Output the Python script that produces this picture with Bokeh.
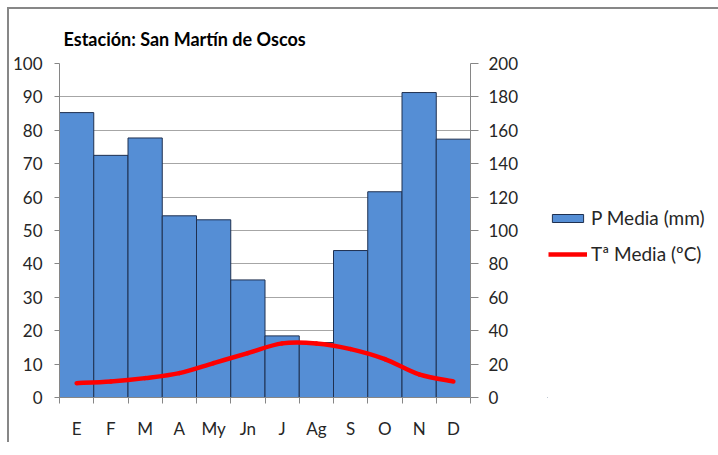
from bokeh.plotting import figure
from bokeh.layouts import row
from bokeh.models import Range1d, LinearAxis, FixedTicker, Legend, LegendItem, ColumnDataSource
from bokeh.embed import file_html
from bokeh.resources import INLINE

months = ["E", "F", "M", "A", "My", "Jn", "J", "Ag", "S", "O", "N", "D"]
precip_mm = [170.6, 145.0, 155.4, 108.8, 106.4, 70.4, 36.9, 32.9, 88.0, 123.2, 182.6, 154.7]
temp_c = [4.3, 4.8, 5.8, 7.3, 10.3, 13.3, 16.2, 16.2, 14.5, 11.5, 6.9, 4.8]
temp_ticks = list(range(0, 101, 10))
precip_ticks = list(range(0, 201, 20))
legend_labels = ["P Media (mm)", "Tª Media (ºC)"]

FONT = "Lato"
TXT = "#262626"
AX = "#868686"
BAR_FILL = "#558ED5"
BAR_LINE = "#1F3050"
LINE_COL = "#FF0000"

p = figure(frame_width=411, frame_height=334,
           x_range=Range1d(0, 12), y_range=Range1d(0, 100),
           output_backend="svg", toolbar_location=None,
           min_border_left=50, min_border_top=54, min_border_bottom=45,
           min_border_right=77)
p.extra_y_ranges = {"p": Range1d(0, 200)}
p.outline_line_color = None

p.title.text = "Estación: San Martín de Oscos"
p.title.text_font = FONT
p.title.text_font_size = "18px"
p.title.text_font_style = "bold"
p.title.text_color = "#000000"
p.title.align = "left"
p.title.offset = 4
p.title.standoff = 28

xs = [i + 0.5 for i in range(len(months))]

# bars (precipitation, right axis)
bars = p.vbar(x=xs, top=precip_mm, bottom=0, width=1.0, y_range_name="p",
              fill_color=BAR_FILL, line_color=BAR_LINE, line_width=1)

# smooth temperature line (cubic Bezier through the data points)
n = len(temp_c)
x0 = []; y0 = []; x1 = []; y1 = []; cx0 = []; cy0 = []; cx1 = []; cy1 = []
for i in range(n - 1):
    xa, ya = xs[i], temp_c[i]
    xb, yb = xs[i + 1], temp_c[i + 1]
    xp, yp = (xs[i - 1], temp_c[i - 1]) if i > 0 else (xa, ya)
    xn, yn = (xs[i + 2], temp_c[i + 2]) if i + 2 < n else (xb, yb)
    x0.append(xa); y0.append(ya); x1.append(xb); y1.append(yb)
    cx0.append(xa + (xb - xp) / 6); cy0.append(ya + (yb - yp) / 6)
    cx1.append(xb - (xn - xa) / 6); cy1.append(yb - (yn - ya) / 6)
src = ColumnDataSource(dict(x0=x0, y0=y0, x1=x1, y1=y1, cx0=cx0, cy0=cy0, cx1=cx1, cy1=cy1))
p.bezier(x0="x0", y0="y0", x1="x1", y1="y1", cx0="cx0", cy0="cy0", cx1="cx1", cy1="cy1",
         source=src, line_color=LINE_COL, line_width=4.5, line_cap="round")

# grid
p.xgrid.visible = False
p.ygrid.ticker = FixedTicker(ticks=temp_ticks)
p.ygrid.grid_line_color = "#A6A6A6"
p.ygrid.grid_line_width = 1

# x axis
xa_ = p.xaxis[0]
xa_.ticker = FixedTicker(ticks=xs, minor_ticks=list(range(13)))
xa_.major_label_overrides = {x: m for x, m in zip(xs, months)}
xa_.major_tick_out = 0
xa_.major_tick_in = 0
xa_.minor_tick_out = 6
xa_.minor_tick_in = 0
xa_.minor_tick_line_color = AX
xa_.axis_line_color = AX
xa_.major_label_standoff = 14
xa_.major_label_text_font = FONT
xa_.major_label_text_font_size = "17px"
xa_.major_label_text_color = TXT

# left axis
ya_ = p.yaxis[0]
ya_.ticker = FixedTicker(ticks=temp_ticks, minor_ticks=[])
ya_.major_tick_out = 5
ya_.major_tick_in = 0
ya_.major_tick_line_color = AX
ya_.axis_line_color = AX
ya_.major_label_standoff = 12
ya_.major_label_text_font = FONT
ya_.major_label_text_font_size = "17px"
ya_.major_label_text_color = TXT

# right axis
ra = LinearAxis(y_range_name="p", ticker=FixedTicker(ticks=precip_ticks, minor_ticks=[]))
ra.major_tick_out = 8
ra.major_tick_in = 0
ra.major_tick_line_color = AX
ra.axis_line_color = AX
ra.major_label_standoff = 10
ra.major_label_text_font = FONT
ra.major_label_text_font_size = "17px"
ra.major_label_text_color = TXT
p.add_layout(ra, "right")

# legend panel (separate figure holding only the legend keys; key glyphs sit outside its view)
lf = figure(width=171, height=433, x_range=Range1d(0, 1), y_range=Range1d(0, 1),
            output_backend="svg", toolbar_location=None,
            min_border=0, min_border_left=0, min_border_right=0,
            min_border_top=0, min_border_bottom=0)
lf.axis.visible = False
lf.grid.visible = False
lf.outline_line_color = None
kb = lf.vbar(x=[-10], top=[-10], bottom=[-11], width=1, fill_color=BAR_FILL,
             line_color=BAR_LINE, line_width=1)
kl = lf.line(x=[-10, -9], y=[-10, -10], line_color=LINE_COL, line_width=4.5)
legend = Legend(items=[LegendItem(label=legend_labels[0], renderers=[kb]),
                       LegendItem(label=legend_labels[1], renderers=[kl])],
                location=(1, 132), orientation="vertical")
legend.border_line_color = None
legend.background_fill_alpha = 0
legend.label_text_font = FONT
legend.label_text_font_size = "19px"
legend.label_text_color = TXT
legend.glyph_width = 39
legend.glyph_height = 10
legend.label_standoff = 4
legend.spacing = 13
legend.margin = 0
legend.padding = 0
legend.label_height = 20
lf.add_layout(legend, "center")

layout = row(p, lf)
layout.styles = {"margin-left": "7px", "margin-top": "7px",
                 "border-left": "2px solid #878787", "border-top": "2px solid #878787"}

open("out.html", "w").write(file_html(layout, INLINE))
